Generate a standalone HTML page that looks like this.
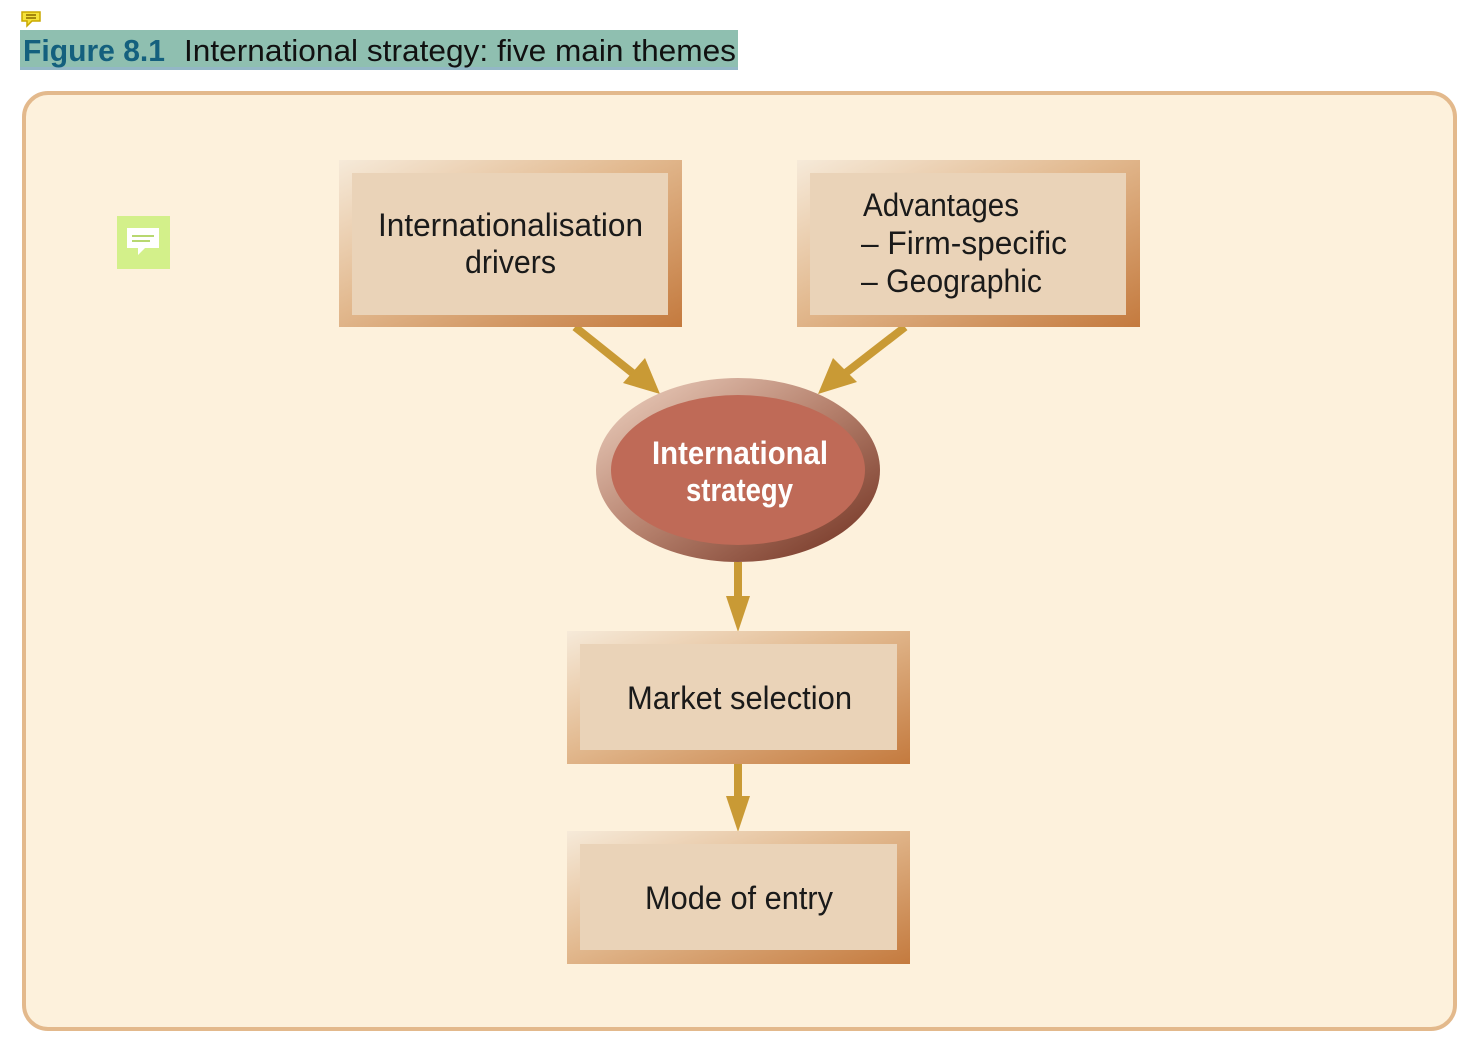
<!DOCTYPE html>
<html><head><meta charset="utf-8"><style>
html,body{margin:0;padding:0;background:#fff;}
svg{display:block}
text{font-family:"Liberation Sans Narrow","Liberation Sans",sans-serif;}
</style></head><body>
<svg width="1476" height="1050" viewBox="0 0 1476 1050" xmlns="http://www.w3.org/2000/svg">
<defs>
<linearGradient id="bx" x1="0" y1="0" x2="1" y2="1">
<stop offset="0" stop-color="#f6ead9"/><stop offset="0.45" stop-color="#e2b98f"/><stop offset="1" stop-color="#c47a3e"/>
</linearGradient>
<linearGradient id="el" x1="0" y1="0" x2="1" y2="1">
<stop offset="0" stop-color="#f0d5c4"/><stop offset="0.5" stop-color="#b5806c"/><stop offset="1" stop-color="#6e2e1e"/>
</linearGradient>
</defs>
<path d="M22 12h18v9h-8l-5 5v-5h-5z" fill="#f5e23a" stroke="#c9a800" stroke-width="1.5"/>
<line x1="26" y1="15" x2="36" y2="15" stroke="#8a6a00" stroke-width="1.5"/>
<line x1="26" y1="18" x2="36" y2="18" stroke="#8a6a00" stroke-width="1.5"/>
<rect x="20" y="30" width="718" height="40" fill="#8fbfb0"/>
<rect x="20" y="67" width="718" height="3" fill="#93b7c6"/>
<text x="23" y="61" font-size="31" textLength="142" lengthAdjust="spacingAndGlyphs" fill="#14607e" font-weight="bold">Figure 8.1</text>
<text x="184" y="61" font-size="31" textLength="552" lengthAdjust="spacingAndGlyphs" fill="#111">International strategy: five main themes</text>
<rect x="24" y="93" width="1431" height="936" rx="24" fill="#fdf1dc" stroke="#e3b98c" stroke-width="4"/>
<rect x="117" y="216" width="53" height="53" fill="#d3f08a"/>
<path d="M127 228h32v20h-14l-7 7v-7h-11z" fill="#fff"/>
<line x1="132" y1="236" x2="154" y2="236" stroke="#b8d870" stroke-width="2"/>
<line x1="132" y1="241" x2="150" y2="241" stroke="#b8d870" stroke-width="2"/>
<g stroke="#c99a35" stroke-width="8" fill="#c99a35">
<line x1="575" y1="327" x2="635" y2="375"/>
<line x1="905" y1="327" x2="843" y2="375"/>
<line x1="738" y1="562" x2="738" y2="605"/>
<line x1="738" y1="764" x2="738" y2="805"/>
</g>
<g fill="#c99a35">
<polygon points="660,394 623,383 645,358"/>
<polygon points="818,394 833,358 857,382"/>
<polygon points="738,632 726,596 750,596"/>
<polygon points="738,832 726,796 750,796"/>
</g>
<rect x="339" y="160" width="343" height="167" fill="url(#bx)"/>
<rect x="352" y="173" width="316" height="142" fill="#ead3b8"/>
<text x="378" y="236" font-size="32" textLength="265" lengthAdjust="spacingAndGlyphs" fill="#1a1a1a">Internationalisation</text>
<text x="465" y="273" font-size="32" textLength="91" lengthAdjust="spacingAndGlyphs" fill="#1a1a1a">drivers</text>
<rect x="797" y="160" width="343" height="167" fill="url(#bx)"/>
<rect x="810" y="173" width="316" height="142" fill="#ead3b8"/>
<text x="863" y="216" font-size="32" textLength="156" lengthAdjust="spacingAndGlyphs" fill="#1a1a1a">Advantages</text>
<text x="861" y="254" font-size="32" textLength="206" lengthAdjust="spacingAndGlyphs" fill="#1a1a1a">– Firm-specific</text>
<text x="861" y="292" font-size="32" textLength="181" lengthAdjust="spacingAndGlyphs" fill="#1a1a1a">– Geographic</text>
<rect x="567" y="631" width="343" height="133" fill="url(#bx)"/>
<rect x="580" y="644" width="317" height="106" fill="#ead3b8"/>
<text x="627" y="709" font-size="32" textLength="225" lengthAdjust="spacingAndGlyphs" fill="#1a1a1a">Market selection</text>
<rect x="567" y="831" width="343" height="133" fill="url(#bx)"/>
<rect x="580" y="844" width="317" height="106" fill="#ead3b8"/>
<text x="645" y="909" font-size="32" textLength="188" lengthAdjust="spacingAndGlyphs" fill="#1a1a1a">Mode of entry</text>
<ellipse cx="738" cy="470" rx="142" ry="92" fill="url(#el)"/>
<ellipse cx="738" cy="470" rx="127" ry="75" fill="#bf6a57"/>
<text x="652" y="464" font-size="32" font-weight="bold" textLength="176" lengthAdjust="spacingAndGlyphs" fill="#fff">International</text>
<text x="686" y="501" font-size="32" font-weight="bold" textLength="107" lengthAdjust="spacingAndGlyphs" fill="#fff">strategy</text>
</svg>
</body></html>
